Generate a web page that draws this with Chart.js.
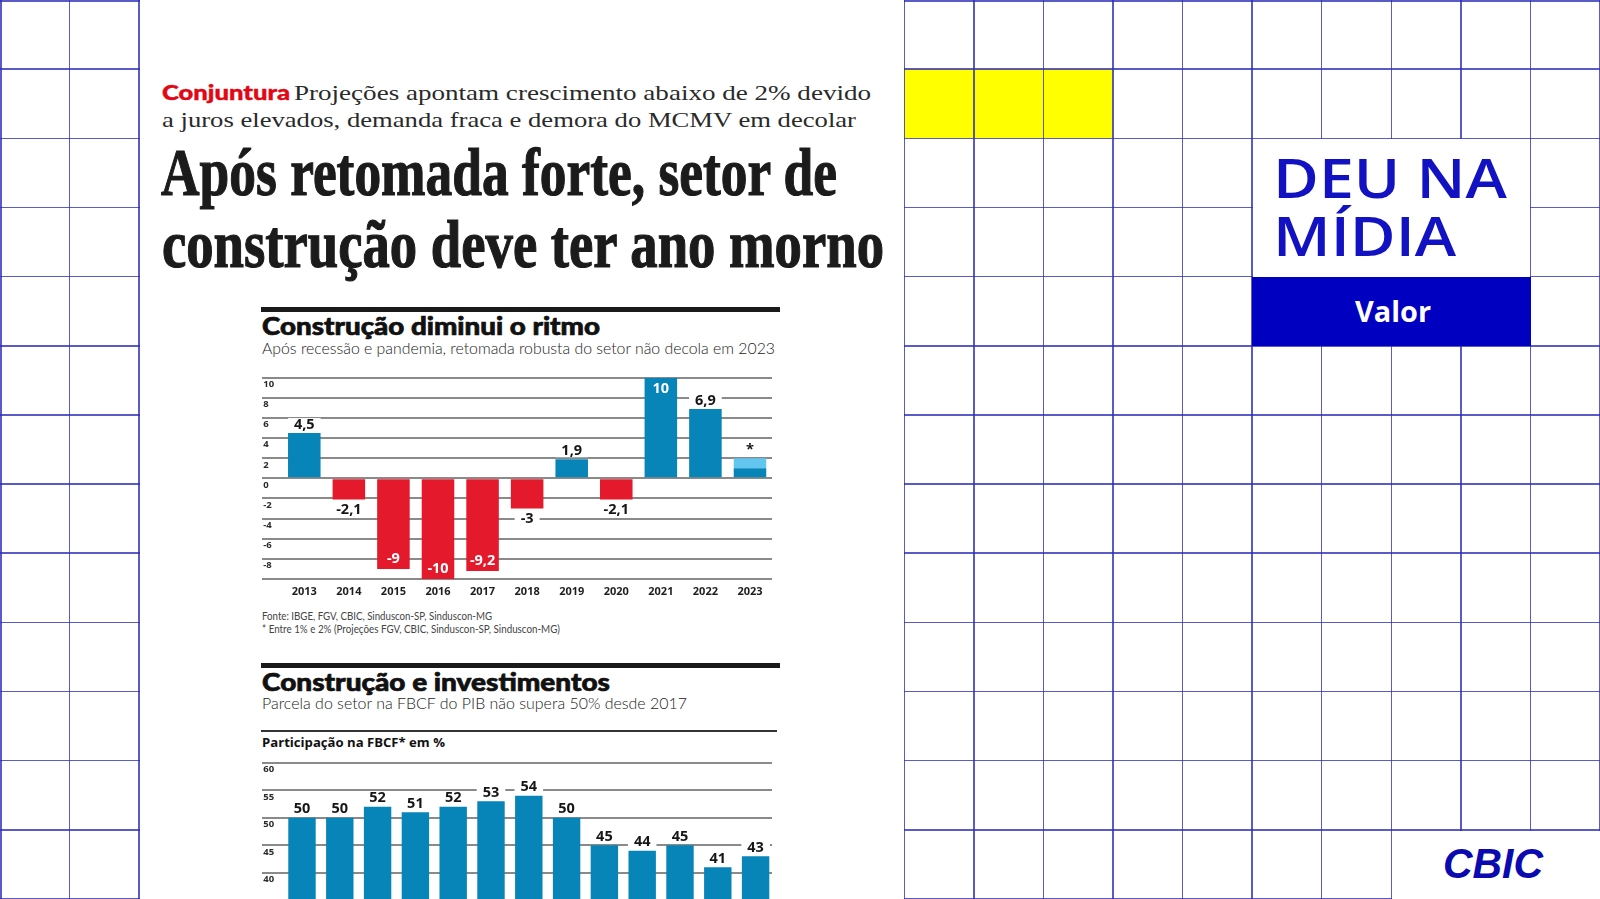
<!DOCTYPE html>
<html lang="pt-BR">
<head>
<meta charset="utf-8">
<title>Deu na mídia - Valor - Construção</title>
<script src="https://cdn.jsdelivr.net/npm/chart.js@4.4.1/dist/chart.umd.min.js"></script>
<style>
  html, body { margin: 0; padding: 0; }
  body { width: 1600px; height: 899px; overflow: hidden; position: relative; background: #fff; }
  .abs { position: absolute; }
  .linha { position: absolute; background: rgba(45, 45, 185, 0.78); }
  .branco { position: absolute; background: #fff; }
  .txt { position: absolute; white-space: nowrap; transform-origin: 0 0; line-height: 1; }
  .kicker { font: 900 21px Lato, sans-serif; color: #e30613; -webkit-text-stroke: 0.4px #e30613; }
  .deck { font: 400 22px "Liberation Serif", serif; color: #2a2a2a; }
  .manchete { font: 700 68px "Liberation Serif", serif; color: #1b1b1b; -webkit-text-stroke: 1.2px #1b1b1b; }
  .gtitulo { font: 900 25px Lato, sans-serif; color: #111; -webkit-text-stroke: 0.7px #111; }
  .gsub { font: 300 16.5px Lato, sans-serif; color: #222; }
  .nota { font: 400 10.5px Lato, sans-serif; color: #444; }
  .rotulo { font: 700 12.5px "Open Sans", sans-serif; color: #111; }
  .deu { font: 600 55px "Open Sans", sans-serif; color: #1212c2; line-height: 57.7px; }
  .valor { font: 700 28px "Open Sans", sans-serif; color: #fff; }
  .cbic { font: italic 700 43px "Liberation Sans", Arial, sans-serif; color: #0a0ab0; }
  canvas { position: absolute; }
</style>
</head>
<body>
<div id="fundo"></div>

<!-- recorte do jornal -->
<div class="txt kicker" data-x="162" data-b="100" data-w="128">Conjuntura</div>
<div class="txt deck" data-x="294" data-b="100" data-w="577">Projeções apontam crescimento abaixo de 2% devido</div>
<div class="txt deck" data-x="162" data-b="126.5" data-w="694">a juros elevados, demanda fraca e demora do MCMV em decolar</div>
<div class="txt manchete" data-x="161" data-b="195" data-w="676">Após retomada forte, setor de</div>
<div class="txt manchete" data-x="162" data-b="267" data-w="722">construção deve ter ano morno</div>

<div class="abs" style="left:261px;top:306.5px;width:519px;height:5.5px;background:#1a1a1a"></div>
<div class="txt gtitulo" data-x="262" data-b="334.5" data-w="338">Construção diminui o ritmo</div>
<div class="txt gsub" data-x="262" data-b="354" data-w="513">Após recessão e pandemia, retomada robusta do setor não decola em 2023</div>
<canvas id="graf1" width="514" height="235" style="left:260px;top:366px"></canvas>
<div class="txt nota" data-x="262" data-b="619.5" data-w="230">Fonte: IBGE, FGV, CBIC, Sinduscon-SP, Sinduscon-MG</div>
<div class="txt nota" data-x="262" data-b="632.5" data-w="298">* Entre 1% e 2% (Projeções FGV, CBIC, Sinduscon-SP, Sinduscon-MG)</div>

<div class="abs" style="left:261px;top:663.3px;width:519px;height:5px;background:#1a1a1a"></div>
<div class="txt gtitulo" data-x="262" data-b="690.5" data-w="348">Construção e investimentos</div>
<div class="txt gsub" data-x="262" data-b="709" data-w="425">Parcela do setor na FBCF do PIB não supera 50% desde 2017</div>
<div class="abs" style="left:261px;top:729.5px;width:516px;height:2px;background:#333"></div>
<div class="txt rotulo" data-x="262" data-b="747" data-w="183">Participação na FBCF* em %</div>
<canvas id="graf2" width="514" height="171" style="left:260px;top:751px"></canvas>

<!-- selo -->
<div class="txt deu" data-x="1273" data-b="256" data-w="234">DEU NA<br>MÍDIA</div>
<div class="txt valor" data-x="1355" data-b="321.7" data-w="76">Valor</div>
<div class="txt cbic" data-x="1443" data-b="878" data-w="100">CBIC</div>

<script>
// Gráfico 1: variação anual do PIB da construção, em %
const anos = ['2013', '2014', '2015', '2016', '2017', '2018', '2019', '2020', '2021', '2022', '2023'];
const variacao = [4.5, -2.1, -9, -10, -9.2, -3, 1.9, -2.1, 10, 6.9, 1];
const faixa2023 = [null, null, null, null, null, null, null, null, null, null, 1]; // projeção entre 1% e 2%
const ticksVariacao = ['10', '8', '6', '4', '2', '0', '-2', '-4', '-6', '-8'];

// Gráfico 2: participação da construção na FBCF, em %
const anosFbcf = ['2010', '2011', '2012', '2013', '2014', '2015', '2016', '2017', '2018', '2019', '2020', '2021', '2022'];
const participacao = [50, 50, 52, 51, 52, 53, 54, 50, 45, 44, 45, 41, 43];
const ticksFbcf = ['60', '55', '50', '45', '40'];

const AZUL = '#0784b8';
const AZUL_CLARO = '#62c6ee';
const VERMELHO = '#e4192b';
const CINZA = '#8a8a8a';

// fundo quadriculado
function montarFundo() {
    const fundo = document.getElementById('fundo');
    const W = 1600, H = 899, COLS = 23, ROWS = 13;
    const cw = W / COLS, rh = H / ROWS;

    function bloco(cls, x, y, w, h, cor) {
        const d = document.createElement('div');
        d.className = cls;
        d.style.left = x + 'px';
        d.style.top = y + 'px';
        d.style.width = w + 'px';
        d.style.height = h + 'px';
        if (cor) d.style.background = cor;
        fundo.appendChild(d);
    }

    bloco('abs', 13 * cw, rh, 3 * cw, rh, '#ffff00');
    for (let i = 0; i <= COLS; i++) {
        const x = Math.max(0, Math.min(i * cw - 0.75, W - 1.5));
        bloco('linha', x, 0, 1.5, H);
    }
    for (let j = 0; j <= ROWS; j++) {
        const y = Math.max(0, Math.min(j * rh - 0.75, H - 1.5));
        bloco('linha', 0, y, W, 1.5);
    }
    // página do jornal
    bloco('branco', 2 * cw + 0.8, 0, 11 * cw - 1.6, H);
    // caixa "Deu na mídia"
    bloco('branco', 18 * cw + 0.8, 2 * rh + 0.8, 4 * cw - 1.6, 2 * rh);
    bloco('abs', 18 * cw - 0.5, 4 * rh, 4 * cw + 1, rh, '#0000c0');
    // área do logo
    bloco('branco', 20 * cw + 0.8, 12 * rh + 0.8, 3 * cw, rh);
}

// encaixa cada texto na largura e na linha de base (da última linha) medidas
function posicionarTextos() {
    document.querySelectorAll('.txt').forEach(function(el) {
        const sonda = document.createElement('span');
        sonda.style.cssText = 'display:inline-block;width:0;height:0;';
        el.appendChild(sonda);
        const base = sonda.offsetTop;
        el.removeChild(sonda);
        const largura = el.getBoundingClientRect().width;
        el.style.left = el.dataset.x + 'px';
        el.style.top = (parseFloat(el.dataset.b) - base) + 'px';
        if (el.dataset.w) {
            el.style.transform = 'scaleX(' + (parseFloat(el.dataset.w) / largura) + ')';
        }
    });
}

// rótulos de valor sobre/sob as barras, com fundo branco cortando as linhas de grade
const rotulos = {
    id: 'rotulos',
    afterDatasetsDraw: function(chart, args, opts) {
        const ctx = chart.ctx;
        const ds = chart.data.datasets;
        const meta = chart.getDatasetMeta(0);
        const extra = ds.length > 1 ? chart.getDatasetMeta(1) : null;

        ctx.save();
        ctx.font = opts.font;
        ctx.textAlign = 'center';
        ctx.textBaseline = 'middle';

        meta.data.forEach(function(bar, i) {
            const v = ds[0].data[i].y;
            let ponta = bar.y;
            let texto = String(v).replace('.', ',');
            if (extra && ds[1].data[i].y !== null) {
                ponta = extra.data[i].y;
                texto = '*';
            }
            const neg = v < 0;
            const dentro = Math.abs(v) >= opts.dentroAPartir;
            let y;
            if (dentro) {
                y = neg ? ponta - 10 : ponta + 11;
                ctx.fillStyle = '#fff';
            } else {
                y = neg ? ponta + 10 : ponta - 8.5;
                const w = ctx.measureText(texto).width + 12;
                ctx.fillStyle = '#fff';
                ctx.fillRect(bar.x - w / 2, y - 6.5, w, 13);
                ctx.fillStyle = '#161616';
            }
            ctx.fillText(texto, bar.x, y);
        });
        ctx.restore();
    }
};

function eixoX(min, max, rotulosX) {
    return {
        type: 'linear',
        stacked: true,
        offset: false,
        min: min,
        max: max,
        grid: { display: false },
        border: { display: false },
        ticks: {
            stepSize: 1,
            includeBounds: false,
            autoSkip: false,
            maxRotation: 0,
            padding: -2,
            color: '#1e1e1e',
            font: { family: 'Open Sans', weight: '700', size: 11 },
            callback: function(v) { return rotulosX[v] !== undefined ? rotulosX[v] : ''; }
        },
        afterFit: function(s) { s.height = 20; }
    };
}

function eixoY(min, max, passo, rotulosY) {
    return {
        stacked: true,
        min: min,
        max: max,
        grid: { color: CINZA, lineWidth: 2, drawTicks: false },
        border: { display: false },
        ticks: {
            stepSize: passo,
            mirror: true,
            padding: 1.3,
            labelOffset: 6.7,
            color: '#2a2a2a',
            font: { family: 'Open Sans', weight: '700', size: 9.5 },
            callback: function(v) { return rotulosY.indexOf(String(v)) >= 0 ? String(v) : ''; }
        },
        afterFit: function(s) { s.width = 0; }
    };
}

montarFundo();
posicionarTextos();

new Chart(document.getElementById('graf1'), {
    type: 'bar',
    data: {
        datasets: [
            {
                label: 'Variação (%)',
                data: variacao.map(function(v, i) { return { x: i, y: v }; }),
                backgroundColor: variacao.map(function(v) { return v < 0 ? VERMELHO : AZUL; }),
                barPercentage: 0.73,
                categoryPercentage: 1
            },
            {
                label: 'Projeção 2023',
                data: faixa2023.map(function(v, i) { return { x: i, y: v }; }),
                backgroundColor: AZUL_CLARO,
                barPercentage: 0.73,
                categoryPercentage: 1
            }
        ]
    },
    options: {
        responsive: false,
        animation: false,
        layout: { padding: { top: 11.7, left: 2, right: 2, bottom: 2 } },
        plugins: {
            legend: { display: false },
            tooltip: { enabled: false },
            rotulos: { font: '700 14.5px "Open Sans"', dentroAPartir: 9 }
        },
        scales: {
            x: eixoX(-0.949, 10.494, anos),
            y: eixoY(-10, 10, 2, ticksVariacao)
        }
    },
    plugins: [rotulos]
});

new Chart(document.getElementById('graf2'), {
    type: 'bar',
    data: {
        datasets: [
            {
                label: 'Participação na FBCF (%)',
                data: participacao.map(function(v, i) { return { x: i, y: v }; }),
                backgroundColor: AZUL,
                barPercentage: 0.725,
                categoryPercentage: 1
            }
        ]
    },
    options: {
        responsive: false,
        animation: false,
        layout: { padding: { top: 11.7, left: 2, right: 2, bottom: 1.8 } },
        plugins: {
            legend: { display: false },
            tooltip: { enabled: false },
            rotulos: { font: '700 14.5px "Open Sans"', dentroAPartir: Infinity }
        },
        scales: {
            x: eixoX(-1.058, 12.434, anosFbcf),
            y: eixoY(35, 60, 5, ticksFbcf)
        }
    },
    plugins: [rotulos]
});
</script>
</body>
</html>
